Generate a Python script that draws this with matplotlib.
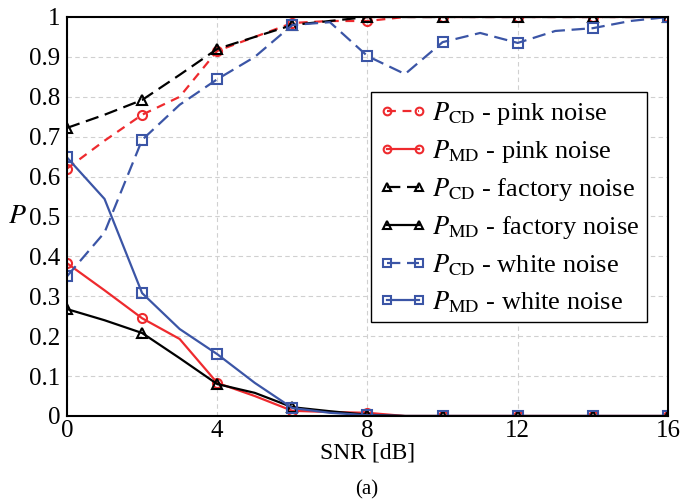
import matplotlib
matplotlib.use("Agg")
import matplotlib.pyplot as plt
import numpy as np

# SNR en dB (puntos cada 1 dB, marcadores cada 2 dB)
snr = np.arange(0, 17)

pcd_pink = [0.62, 0.69, 0.755, 0.80, 0.915, 0.95, 0.985, 0.99, 0.99, 1, 1, 1, 1, 1, 1, 1, 1]
pmd_pink = [0.383, 0.315, 0.245, 0.193, 0.083, 0.05, 0.013, 0.01, 0.008, 0, 0, 0, 0, 0, 0, 0, 0]
pcd_fact = [0.722, 0.755, 0.792, 0.855, 0.92, 0.95, 0.98, 0.99, 1, 1, 1, 1, 1, 1, 1, 1, 1]
pmd_fact = [0.268, 0.24, 0.208, 0.145, 0.08, 0.058, 0.022, 0.012, 0.003, 0, 0, 0, 0, 0, 0, 0, 0]
pcd_white = [0.35, 0.46, 0.692, 0.78, 0.844, 0.9, 0.98, 0.987, 0.902, 0.857, 0.937, 0.96, 0.935, 0.965, 0.972, 0.99, 1]
pmd_white = [0.648, 0.544, 0.308, 0.218, 0.155, 0.083, 0.02, 0.008, 0.002, 0, 0, 0, 0, 0, 0, 0, 0]

x_ticks = [0, 4, 8, 12, 16]
y_ticks = [0, 0.1, 0.2, 0.3, 0.4, 0.5, 0.6, 0.7, 0.8, 0.9, 1]
y_labels = ["0", "0.1", "0.2", "0.3", "0.4", "0.5", "0.6", "0.7", "0.8", "0.9", "1"]

plt.rcParams['font.family'] = ['Liberation Serif', 'DejaVu Serif']
plt.rcParams['mathtext.fontset'] = 'stix'

rojo = '#ee2a2e'
azul = '#3b55a6'
negro = 'black'

fig = plt.figure(figsize=(6.94, 5.0), dpi=100)
ax = fig.add_axes([0.0965, 0.168, 0.866, 0.798])

estilo = dict(markevery=2, markerfacecolor='none', markeredgewidth=1.5, linewidth=1.6, markersize=6.5)
ax.plot(snr, pcd_pink, color=rojo, linestyle=(0, (4, 3)), marker='o', label=r'$P_{\rm CD}$ - pink noise', **estilo)
ax.plot(snr, pmd_pink, color=rojo, linestyle='-', marker='o', label=r'$P_{\rm MD}$ - pink noise', **estilo)
ax.plot(snr, pcd_fact, color=negro, linestyle=(0, (6, 3)), marker='^', label=r'$P_{\rm CD}$ - factory noise', **estilo)
ax.plot(snr, pmd_fact, color=negro, linestyle='-', marker='^', label=r'$P_{\rm MD}$ - factory noise', **estilo)
ax.plot(snr, pcd_white, color=azul, linestyle=(0, (6, 3)), marker='s', label=r'$P_{\rm CD}$ - white noise', **estilo)
ax.plot(snr, pmd_white, color=azul, linestyle='-', marker='s', label=r'$P_{\rm MD}$ - white noise', **estilo)

ax.set_xlim(0, 16)
ax.set_ylim(0, 1)
ax.set_xticks(x_ticks)
ax.set_yticks(y_ticks)
ax.set_yticklabels(y_labels)
ax.tick_params(length=0, labelsize=18)
ax.tick_params(axis='x', pad=3)
ax.tick_params(axis='y', pad=5)
ax.grid(True, color='#d0d0d0', linestyle=(0, (4, 3)), linewidth=0.8)
for s in ax.spines.values():
    s.set_linewidth(1.5)

ax.set_xlabel('SNR [dB]', fontsize=17, labelpad=0)
ax.set_ylabel('$P$', fontsize=20, rotation=0, va='center', ha='center')
ax.yaxis.set_label_coords(-0.083, 0.5)
fig.text(0.529, 0.012, '(a)', fontsize=15, ha='center')

leg = ax.legend(loc='upper left', bbox_to_anchor=(0.506, 0.812), fontsize=19, numpoints=2,
                handlelength=1.8, handletextpad=0.2, borderpad=0.3, labelspacing=0.42,
                markerscale=0.85, borderaxespad=0,
                fancybox=False, framealpha=1, edgecolor='black')
leg.get_frame().set_linewidth(1.0)

fig.savefig('out.png', dpi=100)
